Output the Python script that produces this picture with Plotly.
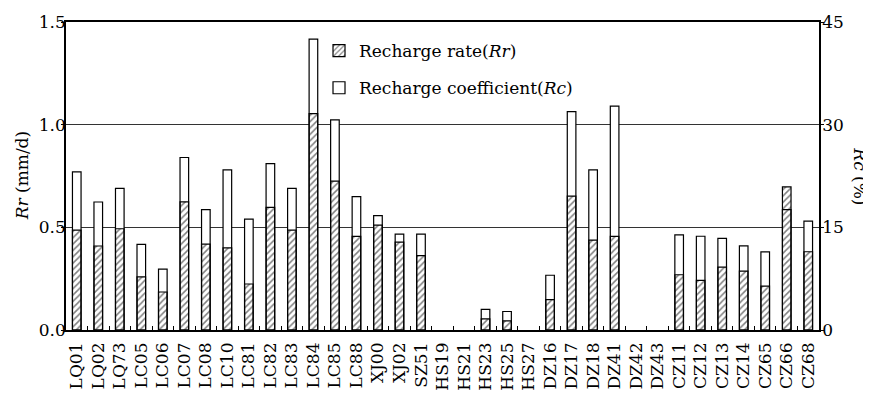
import plotly.graph_objects as go

sites = ["LQ01", "LQ02", "LQ73", "LC05", "LC06", "LC07", "LC08", "LC10", "LC81", "LC82",
         "LC83", "LC84", "LC85", "LC88", "XJ00", "XJ02", "SZ51", "HS19", "HS21", "HS23",
         "HS25", "HS27", "DZ16", "DZ17", "DZ18", "DZ41", "DZ42", "DZ43", "CZ11", "CZ12",
         "CZ13", "CZ14", "CZ65", "CZ66", "CZ68"]

# Recharge rate Rr (mm/d)
rr = [0.486, 0.409, 0.493, 0.259, 0.185, 0.624, 0.418, 0.400, 0.224, 0.597,
      0.486, 1.054, 0.725, 0.456, 0.511, 0.428, 0.362, None, None, 0.054,
      0.044, None, 0.148, 0.652, 0.438, 0.456, None, None, 0.269, 0.242,
      0.306, 0.287, 0.214, 0.697, 0.381]

# Recharge coefficient Rc (%)
rc = [23.1, 18.7, 20.7, 12.5, 8.9, 25.2, 17.6, 23.4, 16.2, 24.3,
      20.7, 42.5, 30.7, 19.5, 16.7, 14.0, 14.0, None, None, 3.0,
      2.7, None, 8.0, 31.9, 23.4, 32.7, None, None, 13.9, 13.7,
      13.4, 12.3, 11.4, 17.6, 15.9]

FONT = "DejaVu Serif"
FS = 17
BW = 0.4

fig = go.Figure()

fig.add_trace(go.Bar(
    x=sites, y=rr, name="Recharge rate(<i>Rr</i>)", yaxis="y2",
    width=BW, offset=-BW / 2,
    marker=dict(color="rgba(255,255,255,0)",
                line=dict(color="black", width=1.2),
                pattern=dict(shape="/", fgcolor="black", size=4.5, solidity=0.33)),
    legendgroup="a",
))

fig.add_trace(go.Bar(
    x=sites, y=rc, name="Recharge coefficient(<i>Rc</i>)", yaxis="y",
    width=BW, offset=-BW / 2,
    marker=dict(color="white", line=dict(color="black", width=1.2)),
    legendgroup="b",
))

# the page adds an 8px body margin, so the figure is sized/offset to compensate
fig.update_layout(
    width=863, height=389,
    margin=dict(l=58, r=52, t=14, b=67, autoexpand=False),
    paper_bgcolor="white", plot_bgcolor="white",
    font=dict(family=FONT, size=FS, color="black"),
    showlegend=True,
    legend=dict(x=0.336, y=0.964, xanchor="left", yanchor="top",
                bgcolor="rgba(0,0,0,0)", font=dict(size=FS, family=FONT),
                traceorder="grouped", tracegroupgap=12),
    xaxis=dict(type="category", tickmode="array", tickvals=sites, ticktext=sites,
               tickangle=-90, ticks="inside", tickson="boundaries",
               ticklen=4, tickcolor="black", showline=True, linecolor="black",
               linewidth=1.5, mirror=True, showgrid=False, automargin=False,
               ticklabelstandoff=4,
               tickfont=dict(size=FS, family=FONT)),
    yaxis=dict(side="right", range=[0, 45], tickvals=[0, 15, 30, 45],
               ticks="outside", ticklen=3, tickcolor="black",
               showline=True, linecolor="black", linewidth=1.5,
               showgrid=True, gridcolor="#333", gridwidth=1, zeroline=False,
               automargin=False, ticklabelstandoff=-5,
               tickfont=dict(size=FS, family=FONT)),
    yaxis2=dict(side="left", overlaying="y", range=[0, 1.5],
                tickvals=[0, 0.5, 1.0, 1.5], ticktext=["0.0", "0.5", "1.0", "1.5"],
                ticks="outside", ticklen=3, tickcolor="black",
                showline=True, linecolor="black", linewidth=1.5,
                showgrid=False, zeroline=False,
                automargin=False, ticklabelstandoff=-8,
                tickfont=dict(size=FS, family=FONT)),
    annotations=[
        dict(text="<i>Rr</i> (mm/d)", xref="paper", yref="paper", x=-0.058, y=0.5,
             xanchor="center", yanchor="middle", textangle=-90, showarrow=False,
             font=dict(size=FS, family=FONT)),
        dict(text="<i>Rc</i> (%)", xref="paper", yref="paper", x=1.054, y=0.5,
             xanchor="center", yanchor="middle", textangle=90, showarrow=False,
             font=dict(size=FS, family=FONT)),
    ],
)

fig.write_html("out.html")
